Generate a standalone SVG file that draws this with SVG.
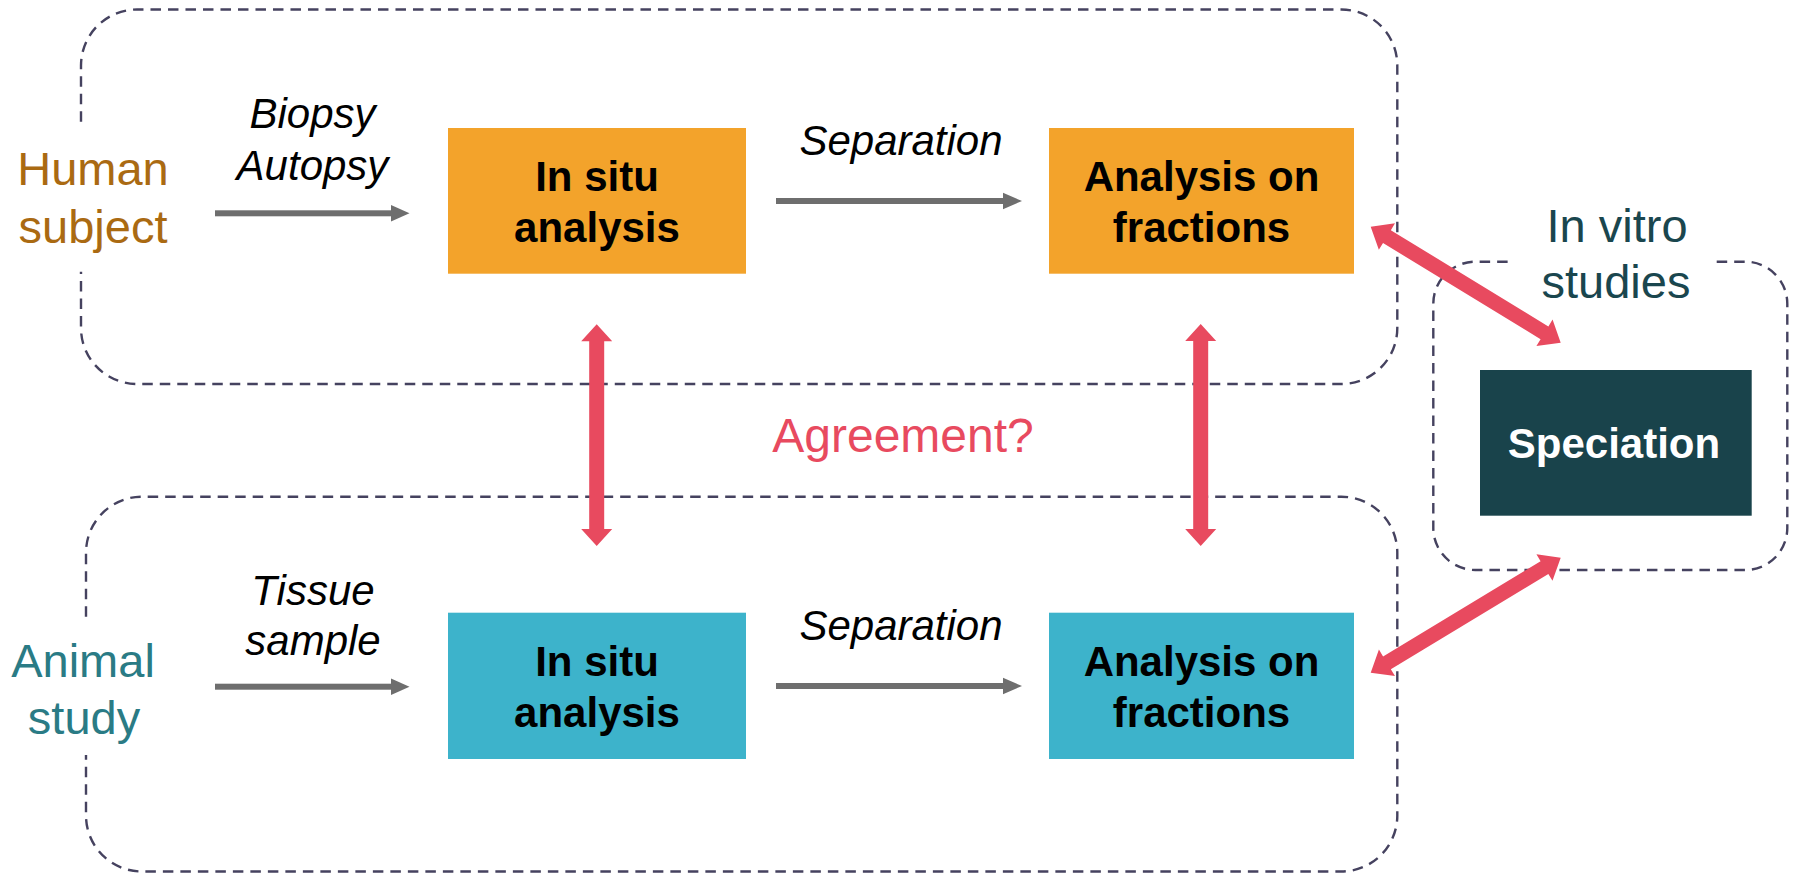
<svg xmlns="http://www.w3.org/2000/svg" width="1795" height="873" viewBox="0 0 1795 873">
<style>
text{font-family:"Liberation Sans",Arial,sans-serif;}
.grp{fill:none;stroke:#45425F;stroke-width:2.4;stroke-dasharray:10.5 7;}
.lbl{font-size:47px;text-anchor:middle;}
.it{font-size:42px;font-style:italic;text-anchor:middle;fill:#000;}
.bx{font-size:42px;font-weight:bold;text-anchor:middle;fill:#000;}
.or{fill:#F3A32B;}
.cy{fill:#3DB3CB;}
.red{fill:#E84A5F;}
.gr{fill:#6E6E6E;}
</style>
<rect width="1795" height="873" fill="#fff"/>
<g id="containers">
<g id="human-group">
<path class="grp" d="M81 121.7V65.5A56 56 0 0 1 137 9.5H1341.3A56 56 0 0 1 1397.3 65.5V328A56 56 0 0 1 1341.3 384H137A56 56 0 0 1 81 328V271.7"/>
<text class="lbl" x="93" y="185" fill="#AA6A12">Human</text>
<text class="lbl" x="93" y="243" fill="#AA6A12">subject</text>
</g>
<g id="animal-group">
<path class="grp" d="M86 616.7V552.7A56 56 0 0 1 142 496.7H1341.3A56 56 0 0 1 1397.3 552.7V815.7A56 56 0 0 1 1341.3 871.5H142A56 56 0 0 1 86 815.7V755"/>
<text class="lbl" x="83" y="677" fill="#2A7B85">Animal</text>
<text class="lbl" x="84" y="733.5" fill="#2A7B85">study</text>
</g>
<g id="invitro-group">
<path class="grp" d="M1716.7 261.7H1745.3A42 42 0 0 1 1787.3 303.7V528A42 42 0 0 1 1745.3 570H1475.3A42 42 0 0 1 1433.3 528V303.7A42 42 0 0 1 1475.3 261.7H1510"/>
<text class="lbl" x="1617" y="241.7" fill="#1A464E">In vitro</text>
<text class="lbl" x="1616" y="298.3" fill="#1A464E">studies</text>
</g>
</g>
<g id="nodes">
<g id="insitu-human">
<rect class="or" x="448" y="128" width="298" height="145.7"/>
<text class="bx" x="597" y="190.7">In situ</text>
<text class="bx" x="597" y="241.7">analysis</text>
</g>
<g id="fractions-human">
<rect class="or" x="1049" y="128" width="305" height="145.7"/>
<text class="bx" x="1201.5" y="190.7">Analysis on</text>
<text class="bx" x="1201.5" y="241.7">fractions</text>
</g>
<g id="insitu-animal">
<rect class="cy" x="448" y="612.7" width="298" height="146.3"/>
<text class="bx" x="597" y="675.5">In situ</text>
<text class="bx" x="597" y="726.5">analysis</text>
</g>
<g id="fractions-animal">
<rect class="cy" x="1049" y="612.7" width="305" height="146.3"/>
<text class="bx" x="1201.5" y="675.5">Analysis on</text>
<text class="bx" x="1201.5" y="726.5">fractions</text>
</g>
<g id="speciation">
<rect x="1480" y="370" width="271.7" height="145.7" fill="#19434B"/>
<text class="bx" x="1614" y="458.3" fill="#fff" style="fill:#fff">Speciation</text>
</g>
</g>
<g id="connectors">
<g id="flow-arrows">
<rect class="gr" x="215" y="210.3" width="177" height="6"/>
<polygon class="gr" points="391,205 409.5,213.3 391,221.6"/>
<text class="it" x="312.5" y="128">Biopsy</text>
<text class="it" x="312.5" y="180">Autopsy</text>
<rect class="gr" x="776" y="198" width="228" height="6"/>
<polygon class="gr" points="1003,192.7 1022,201 1003,209.3"/>
<text class="it" x="901" y="155">Separation</text>
<rect class="gr" x="215" y="683.7" width="177" height="6"/>
<polygon class="gr" points="391,678.4 409.5,686.7 391,695"/>
<text class="it" x="313" y="605">Tissue</text>
<text class="it" x="313" y="655">sample</text>
<rect class="gr" x="776" y="683" width="228" height="6"/>
<polygon class="gr" points="1003,677.7 1022,686 1003,694.3"/>
<text class="it" x="901" y="640">Separation</text>
</g>
<g id="agreement-arrows">
<polygon class="red" transform="translate(596.7,324.3) rotate(90)" points="0,0 17,-15.5 17,-7.5 204.7,-7.5 204.7,-15.5 221.7,0 204.7,15.5 204.7,7.5 17,7.5 17,15.5"/>
<polygon class="red" transform="translate(1200.7,324) rotate(90)" points="0,0 17,-15.5 17,-7.5 205,-7.5 205,-15.5 222,0 205,15.5 205,7.5 17,7.5 17,15.5"/>
<polygon class="red" transform="translate(1370.7,226.7) rotate(31.4)" points="0,0 19,-15.5 19,-7.5 203.6,-7.5 203.6,-15.5 222.6,0 203.6,15.5 203.6,7.5 19,7.5 19,15.5"/>
<polygon class="red" transform="translate(1370.7,672.7) rotate(-31.18)" points="0,0 19,-15.5 19,-7.5 203.1,-7.5 203.1,-15.5 222.1,0 203.1,15.5 203.1,7.5 19,7.5 19,15.5"/>
<text x="903" y="452" font-size="48" text-anchor="middle" fill="#E84A5F">Agreement?</text>
</g>
</g>
</svg>
